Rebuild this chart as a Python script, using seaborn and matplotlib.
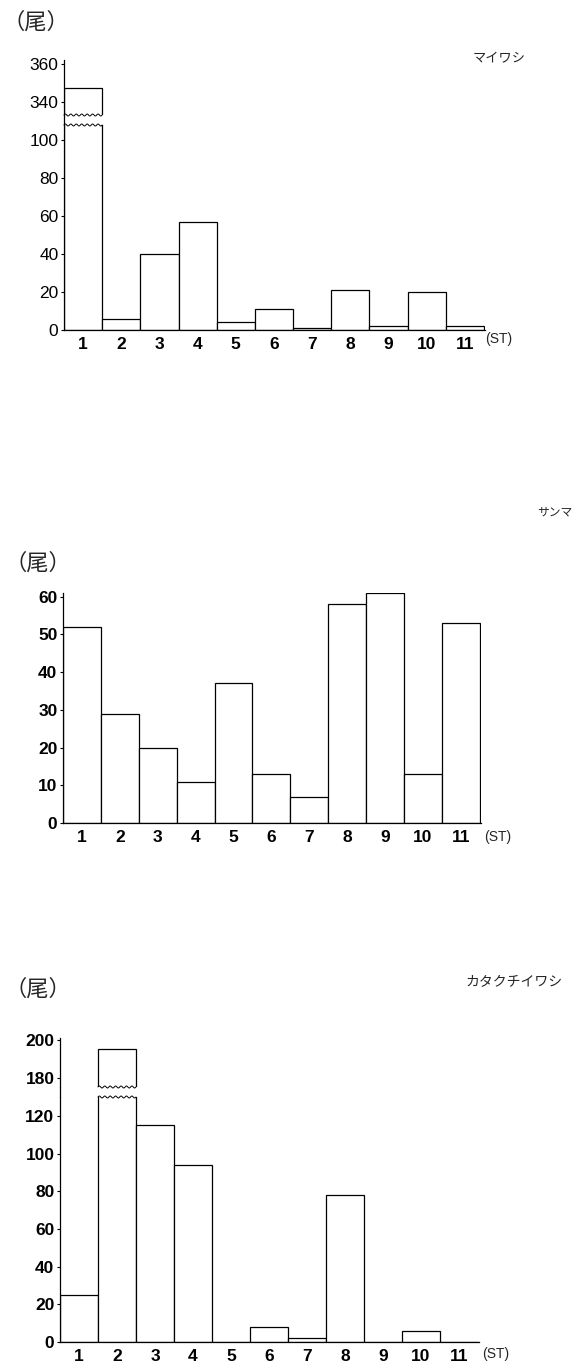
import matplotlib
matplotlib.use("Agg")
import matplotlib.pyplot as plt
from matplotlib.lines import Line2D
from matplotlib.transforms import blended_transform_factory
import seaborn as sns
import pandas as pd
import numpy as np

# ---------------- data ----------------
stations = [str(i) for i in range(1, 12)]
maiwashi = [347, 6, 40, 57, 4, 11, 1, 21, 2, 20, 2]
sanma = [52, 29, 20, 11, 37, 13, 7, 58, 61, 13, 53]
katakuchi = [25, 195, 115, 94, 0, 8, 2, 78, 0, 6, 0]

maiwashi_low_ticks = [0, 20, 40, 60, 80, 100]
maiwashi_high_ticks = [340, 360]
sanma_ticks = [0, 10, 20, 30, 40, 50, 60]
katakuchi_low_ticks = [0, 20, 40, 60, 80, 100, 120]
katakuchi_high_ticks = [180, 200]

titles = ["マイワシ", "サンマ", "カタクチイワシ"]
unit_label = "（尾）"
x_unit = "(ST)"

# ---------------- style ----------------
sns.set_style("white")
plt.rcParams["font.family"] = ["Liberation Sans", "DejaVu Sans"]
CJK = ["Noto Sans CJK JP", "DejaVu Sans"]

W, H = 580, 1367
fig = plt.figure(figsize=(W / 100, H / 100), dpi=100)
XMAX = len(stations) - 0.47


def rect(left, right, top, bottom):
    return [left / W, 1 - bottom / H, (right - left) / W, (bottom - top) / H]


def fx(x):
    return x / W


def fy(y):
    return 1 - y / H


def draw_bars(ax, values):
    df = pd.DataFrame({"st": stations, "n": values})
    sns.barplot(data=df, x="st", y="n", order=stations, color="white",
                saturation=1, edgecolor="black", linewidth=0.9, width=1.0,
                errorbar=None, ax=ax)
    ax.set_xlim(-0.5, XMAX)
    ax.set_xlabel("")
    ax.set_ylabel("")
    for s in ["top", "right"]:
        ax.spines[s].set_visible(False)
    for s in ["left", "bottom"]:
        ax.spines[s].set_color("black")
        ax.spines[s].set_linewidth(0.9)
    ax.tick_params(axis="y", direction="out", length=2.5, width=0.8,
                   pad=1.5, labelsize=12.5, left=True, colors="black")
    ax.tick_params(axis="x", length=0, pad=5, labelsize=12.5, colors="black")


def low_axes(box, values, ylim, ticks):
    ax = fig.add_axes(rect(*box))
    draw_bars(ax, values)
    ax.set_ylim(*ylim)
    ax.set_yticks(ticks)
    ax.set_yticklabels([str(t) for t in ticks], fontweight="bold", fontsize=12.5)
    ax.set_xticks(range(len(stations)))
    ax.set_xticklabels(stations, fontweight="bold", fontsize=12.5)
    return ax


def high_axes(box, values, ylim, ticks):
    ax = fig.add_axes(rect(*box))
    draw_bars(ax, values)
    ax.set_ylim(*ylim)
    ax.set_yticks(ticks)
    ax.set_yticklabels([str(t) for t in ticks], fontweight="bold", fontsize=12.5)
    ax.spines["bottom"].set_visible(False)
    ax.set_xticks([])
    ax.set_xlim(-0.5, XMAX)
    return ax


def wave(ax, idx, yaxes):
    tr = blended_transform_factory(ax.transData, ax.transAxes)
    n = 80
    xs = np.linspace(idx - 0.5, idx + 0.5, n)
    hpx = ax.get_position().height * H
    amp = 1.0 / hpx
    ys = yaxes + amp * np.sin(np.linspace(0, 14 * np.pi, n))
    ax.plot(xs, ys, color="black", lw=0.7, transform=tr, clip_on=False)


def bridge(xpx, y1, y2):
    fig.add_artist(Line2D([fx(xpx), fx(xpx)], [fy(y1), fy(y2)],
                          color="black", lw=0.9))


# ---------------- panel 1 : マイワシ ----------------
a1 = low_axes((64, 485, 125, 330), maiwashi, (0, 108), maiwashi_low_ticks)
a1u = high_axes((64, 485, 60, 115), maiwashi, (333, 362), maiwashi_high_ticks)
for ax in (a1, a1u):
    for lab in ax.get_yticklabels():
        lab.set_fontweight("normal")
wave(a1, int(np.argmax(maiwashi)), 1.0)
wave(a1u, int(np.argmax(maiwashi)), 0.0)
bridge(64, 115, 125)
fig.text(fx(3), fy(22), unit_label, family=CJK, fontsize=16, va="center", ha="left")
fig.text(fx(473), fy(59), titles[0], family=CJK, fontsize=9.5, va="center", ha="left")
fig.text(fx(485), fy(339), x_unit, fontsize=10, va="center", ha="left")

# ---------------- panel 2 : サンマ ----------------
a2 = low_axes((63, 481, 593, 823), sanma, (0, 61), sanma_ticks)
fig.text(fx(5), fy(563), unit_label, family=CJK, fontsize=16, va="center", ha="left")
fig.text(fx(537), fy(512), titles[1], family=CJK, fontsize=8.5, va="center", ha="left")
fig.text(fx(484), fy(837), x_unit, fontsize=10, va="center", ha="left")

# ---------------- panel 3 : カタクチイワシ ----------------
a3 = low_axes((60, 479, 1097, 1342), katakuchi, (0, 130), katakuchi_low_ticks)
a3u = high_axes((60, 479, 1038, 1087), katakuchi, (175, 201), katakuchi_high_ticks)
wave(a3, int(np.argmax(katakuchi)), 1.0)
wave(a3u, int(np.argmax(katakuchi)), 0.0)
bridge(60, 1087, 1097)
fig.text(fx(5), fy(989), unit_label, family=CJK, fontsize=16, va="center", ha="left")
fig.text(fx(465), fy(982), titles[2], family=CJK, fontsize=10, va="center", ha="left")
fig.text(fx(482), fy(1354), x_unit, fontsize=10, va="center", ha="left")

fig.savefig("out.png", dpi=100, facecolor="white")
